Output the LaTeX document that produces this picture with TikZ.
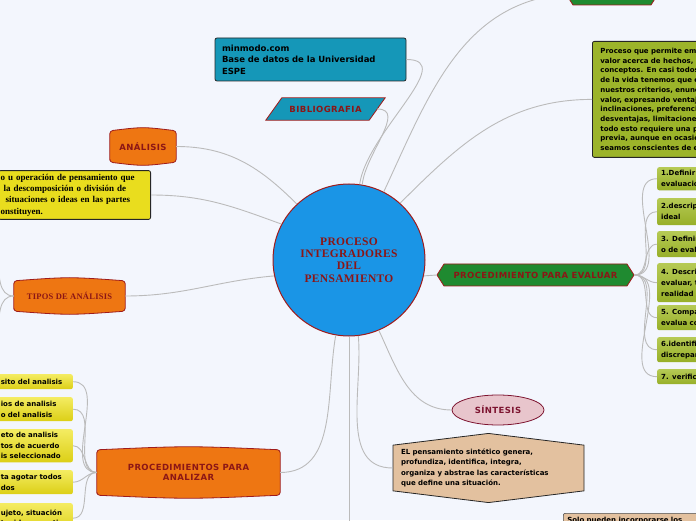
\documentclass[tikz,border=0pt]{standalone}
\usepackage{fontspec}
\setmainfont{Liberation Serif}
\setsansfont{DejaVu Sans}
\newfontfamily\headsans[LetterSpace=5]{DejaVu Sans}
\newfontfamily\headserif[LetterSpace=3]{Liberation Serif}
\usetikzlibrary{shapes.geometric,shapes.symbols,backgrounds}

\definecolor{pagebg}{HTML}{F3F6FD}
\definecolor{linegray}{HTML}{BBBBBB}
\definecolor{darkred}{HTML}{9E1B1B}
\definecolor{labelred}{HTML}{8B1616}
\definecolor{hubblue}{HTML}{1A95E6}
\definecolor{refteal}{HTML}{1597B8}
\definecolor{evalgreen}{HTML}{1F8A30}
\definecolor{olivebox}{HTML}{9CB42A}
\definecolor{olivetop}{HTML}{B6CA55}
\definecolor{olivebot}{HTML}{97AF28}
\definecolor{yellowbox}{HTML}{E9DD1E}
\definecolor{yellowtop}{HTML}{F4EC62}
\definecolor{yellowbot}{HTML}{DCCF16}
\definecolor{orangebox}{HTML}{EE7612}
\definecolor{pinkbox}{HTML}{E8C5CC}
\definecolor{sinred}{HTML}{7D1430}
\definecolor{tanbox}{HTML}{E3C19F}

\newcommand{\hdfont}{\headsans\bfseries\fontsize{8.5}{10.5}\selectfont}
\newcommand{\txfont}{\sffamily\bfseries\fontsize{7}{10.5}\selectfont}

% orange barrel behind a named node
\newcommand{\barrelfill}[2]{%
  \begin{pgfonlayer}{background}
    \draw[draw=darkred, line width=0.8pt, fill=#2, rounded corners=3pt]
      (#1.south west) -- (#1.north west)
      .. controls ([yshift=4pt]#1.north) .. (#1.north east)
      -- (#1.south east)
      .. controls ([yshift=-4pt]#1.south) .. (#1.south west) -- cycle;
  \end{pgfonlayer}}

\begin{document}
\begin{tikzpicture}[x=1pt, y=1pt,
  branch/.style={draw=linegray, line width=0.9pt},
  barrelnode/.style={inner sep=2pt, align=center, text=labelred, font=\hdfont},
  hexbox/.style={signal, signal to=east and west, signal pointer angle=115,
    draw=darkred, line width=0.8pt, fill=evalgreen, text=labelred, font=\hdfont},
  evitem/.style={anchor=north west, rounded corners=2pt, top color=olivetop,
    bottom color=olivebot, text width=150pt, align=left, inner xsep=4pt,
    font=\sffamily\bfseries\fontsize{7}{11}\selectfont},
  anitem/.style={anchor=north east, rounded corners=2pt, top color=yellowtop,
    bottom color=yellowbot, text width=69pt, align=left, inner xsep=3pt, font=\txfont}]

  \begin{scope}[on background layer]
    \fill[pagebg] (0,0) rectangle (696,520);
  \end{scope}
  \useasboundingbox (0,0) rectangle (696,520);
  \clip (0,0) rectangle (696,520);

  % central node
  \node[circle, draw=darkred, line width=1pt, fill=hubblue, minimum size=152pt,
    align=center, text=labelred,
    font=\headserif\bfseries\fontsize{11.5}{12.3}\selectfont]
    (hub) at (349,260) {PROCESO\\INTEGRADORES\\DEL\\PENSAMIENTO};

  % bibliography
  \node[minimum width=103pt, minimum height=22pt, inner sep=0pt,
    text=labelred, font=\hdfont] (bib) at (325.5,411) {BIBLIOGRAFIA};
  \begin{pgfonlayer}{background}
    \draw[draw=darkred, line width=0.8pt, fill=refteal]
      ([xshift=-8pt]bib.south west) -- ([xshift=-8pt]bib.south east)
      -- ([xshift=8pt]bib.north east) -- ([xshift=8pt]bib.north west) -- cycle;
  \end{pgfonlayer}
  \node[rounded corners=2pt, draw=black!85, line width=0.8pt, fill=refteal,
    minimum width=191pt, minimum height=43pt, text width=177pt, align=left,
    font=\sffamily\bfseries\fontsize{8.5}{11.5}\selectfont]
    (web) at (310.5,460.5) {minmodo.com\\Base de datos de la Universidad\\ESPE};

  % top right
  \node[hexbox, minimum width=92pt, minimum height=22pt] (topg) at (612,526) {};
  \node[anchor=north west, rounded corners=2pt, draw=black!85, line width=0.8pt,
    fill=olivebox, minimum height=116pt, text width=200pt, align=left,
    inner xsep=8pt, font=\sffamily\bfseries\fontsize{7}{9.7}\selectfont]
    (evd) at (592,479) {Proceso que permite emitir juicios de\\
      valor acerca de hechos, situaciones o\\
      conceptos. En casi todos los aspectos\\
      de la vida tenemos que evaluar con\\
      nuestros criterios, enunciando juicios de\\
      valor, expresando ventajas,\\
      inclinaciones, preferencias,\\
      desventajas, limitaciones, etc. Pero\\
      todo esto requiere una planificación\\
      previa, aunque en ocasiones no\\
      seamos conscientes de ello.};

  % evaluation
  \node[hexbox, minimum width=197pt, minimum height=22pt] (ev) at (535.5,245)
    {PROCEDIMIENTO PARA EVALUAR};
  \node[evitem, minimum height=23pt] (ev1) at (657,353) {1.Definir el objeto de\\evaluación};
  \node[evitem, minimum height=27pt] (ev2) at (657,322) {2.descripción del modelo\\ideal};
  \node[evitem, minimum height=26pt] (ev3) at (657,289) {3. Definir los criterios\\o de evaluación};
  \node[evitem, minimum height=39pt] (ev4) at (657,257) {4. Describir el objeto a\\evaluar, tal como está en la\\realidad};
  \node[evitem, minimum height=25pt] (ev5) at (657,215) {5. Comparar el objeto que se\\evalua con el modelo};
  \node[evitem, minimum height=25pt] (ev6) at (657,183) {6.identificar las\\discrepancias};
  \node[evitem, minimum height=15pt] (ev7) at (657,151) {7. verificar};

  % synthesis
  \node[ellipse, draw=sinred, line width=0.8pt, fill=pinkbox, minimum width=92pt,
    minimum height=30pt, text=sinred, font=\hdfont] (sin) at (498,110) {SÍNTESIS};
  \node[signal, signal to=north and south, signal pointer angle=166, draw=black!85,
    line width=0.8pt, fill=tanbox, minimum width=191pt, minimum height=68pt,
    text width=175pt, align=left, font=\txfont]
    (syn) at (488.5,52) {EL pensamiento sintético genera,\\profundiza, identifica, integra,\\organiza y abstrae las características\\que define una situación.};
  \node[anchor=north west, rounded corners=2pt, draw=black!70, line width=0.6pt,
    fill=tanbox, text width=160pt, align=left, inner sep=4pt, font=\txfont]
    (solo) at (563,7) {Solo pueden incorporarse los};
  \coordinate (down) at (349,-10);

  % analysis
  \node[barrelnode, minimum width=66pt, minimum height=31pt] (ana) at (143,373.5) {ANÁLISIS};
  \barrelfill{ana}{orangebox}
  \node[anchor=east, rounded corners=2pt, draw=black!85, line width=0.8pt,
    fill=yellowbox, minimum height=48pt, text width=148pt, inner xsep=2pt,
    align=left, font=\bfseries\fontsize{9}{11.3}\selectfont] (anad) at (151,325)
    {o u operación de pensamiento que\\
     \hspace*{3pt}la descomposición o división de\\
     \hspace*{5pt}situaciones o ideas en las partes\\
     onstituyen.};
  \node[barrelnode, minimum width=111pt, minimum height=30pt,
    font=\headserif\bfseries\fontsize{8.5}{10}\selectfont] (tip) at (69.5,224) {TIPOS DE ANÁLISIS};
  \barrelfill{tip}{orangebox}
  \coordinate (tipa) at (-3,262);
  \coordinate (tipb) at (-3,186);
  \node[barrelnode, minimum width=183pt, minimum height=45pt] (pa) at (188.5,47.5)
    {PROCEDIMIENTOS PARA\\ANALIZAR};
  \barrelfill{pa}{orangebox}
  \node[anitem, minimum height=15pt] (an1) at (73,146) {sito del analisis};
  \node[anitem, minimum height=24pt] (an2) at (73,123) {ios de analisis\\o del analisis};
  \node[anitem, minimum height=33pt] (an3) at (73,91) {eto de analisis\\tos de acuerdo\\is seleccionado};
  \node[anitem, minimum height=24pt] (an4) at (73,50) {ta agotar todos\\dos};
  \node[anitem, minimum height=30pt] (an5) at (73,17) {ujeto, situación\\tenidos a partir};

  % branches
  \draw[branch] (hub.80) to[out=85,in=0] (bib.east);
  \draw[branch] (hub.82) to[out=82,in=0] (web.east);
  \draw[branch] (hub.63) to[out=65,in=185] (topg.west);
  \draw[branch] (hub.48) to[out=45,in=180] (evd.west);
  \draw[branch] (hub.-12) -- (ev.west);
  \foreach \i in {1,...,7}
    \draw[branch] (ev.east) to[out=0,in=180] (ev\i.west);
  \draw[branch] (hub.-67) to[out=-65,in=180] (sin.west);
  \draw[branch] (hub.-83) to[out=-85,in=180] (syn.west);
  \draw[branch] (hub.south) -- (down);
  \draw[branch] (hub.-100) to[out=-100,in=0] (pa.east);
  \draw[branch] (hub.133) to[out=135,in=0] (ana.east);
  \draw[branch] (hub.152) to[out=160,in=0] (anad.east);
  \draw[branch] (hub.192) to[out=185,in=0] (tip.east);
  \draw[branch] (tip.west) to[out=180,in=-80] (tipa);
  \draw[branch] (tip.west) to[out=180,in=80] (tipb);
  \foreach \i in {1,...,5}
    \draw[branch] (pa.west) to[out=180,in=0] (an\i.east);
\end{tikzpicture}
\end{document}
